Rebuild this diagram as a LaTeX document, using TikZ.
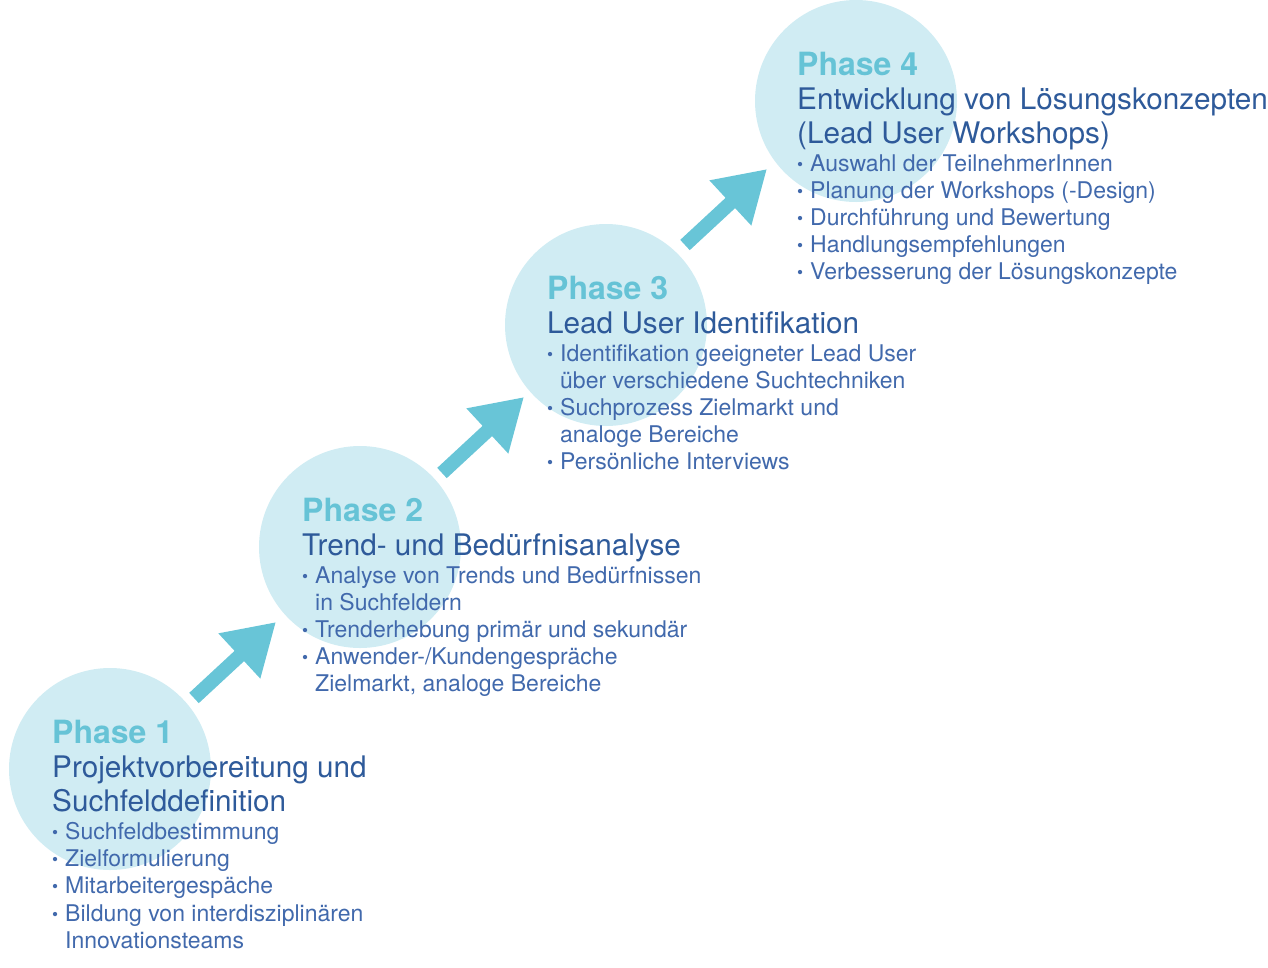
\documentclass[tikz,border=0pt]{standalone}
\usepackage{fontspec}
\setmainfont{TeX Gyre Heros}
\usetikzlibrary{arrows.meta}
\definecolor{circfill}{HTML}{D0ECF3}
\definecolor{arrowcol}{HTML}{68C5D7}
\definecolor{phasecol}{HTML}{66C3D6}
\definecolor{titlecol}{HTML}{2E5A9A}
\definecolor{itemcol}{HTML}{4169AC}
\newcommand{\bul}{\makebox[13pt][l]{\raisebox{0.5pt}{\scalebox{0.75}{•}}}}
\tikzset{
  phasecircle/.style={circle, fill=circfill, minimum size=202pt, inner sep=0pt},
  phaselabel/.style={anchor=base west, inner sep=0pt, text=phasecol, font=\fontsize{32}{32}\selectfont\bfseries},
  titleline/.style={anchor=base west, inner sep=0pt, text=titlecol, font=\fontsize{29.7}{29.7}\selectfont},
  itemline/.style={anchor=base west, inner sep=0pt, text=itemcol, font=\fontsize{23}{23}\selectfont},
  contline/.style={anchor=base west, inner sep=0pt, text=itemcol, font=\fontsize{23}{23}\selectfont, xshift=13pt},
  steparrow/.style={draw=arrowcol, line width=14pt, line cap=butt, -{Triangle[width=58pt,length=50pt,fill=arrowcol]}}
}
\begin{document}
\begin{tikzpicture}[x=1pt,y=-1pt]
\useasboundingbox (0,0) rectangle (1268,967);
% circles
\node[phasecircle] (c1) at (110,769) {};
\node[phasecircle] (c2) at (360,547) {};
\node[phasecircle] (c3) at (606,325) {};
\node[phasecircle] (c4) at (856,101) {};
% arrows
\coordinate (a1s) at (194,698); \coordinate (a1e) at (276,622);
\coordinate (a2s) at (442,473); \coordinate (a2e) at (524,397);
\coordinate (a3s) at (685,245); \coordinate (a3e) at (767,169);
\draw[steparrow] (a1s) -- (a1e);
\draw[steparrow] (a2s) -- (a2e);
\draw[steparrow] (a3s) -- (a3e);
% Phase 1
\node[phaselabel] (p1) at (52,743) {Phase 1};
\node[titleline] (p1t1) at (52,777) {Projektvorbereitung und};
\node[titleline] (p1t2) at (52,811) {Suchfelddefinition};
\node[itemline] (p1i1) at (52,839) {\bul Suchfeldbestimmung};
\node[itemline] (p1i2) at (52,866) {\bul Zielformulierung};
\node[itemline] (p1i3) at (52,893) {\bul Mitarbeitergespäche};
\node[itemline] (p1i4) at (52,921) {\bul Bildung von interdisziplinären};
\node[contline] (p1i5) at (52,948) {Innovationsteams};
% Phase 2
\node[phaselabel] (p2) at (302,521) {Phase 2};
\node[titleline] (p2t1) at (302,555) {Trend- und Bedürfnisanalyse};
\node[itemline] (p2i1) at (302,583) {\bul Analyse von Trends und Bedürfnissen};
\node[contline] (p2i2) at (302,610) {in Suchfeldern};
\node[itemline] (p2i3) at (302,637) {\bul Trenderhebung primär und sekundär};
\node[itemline] (p2i4) at (302,664) {\bul Anwender-/Kundengespräche};
\node[contline] (p2i5) at (302,691) {Zielmarkt, analoge Bereiche};
% Phase 3
\node[phaselabel] (p3) at (547,299) {Phase 3};
\node[titleline] (p3t1) at (547,333) {Lead User Identifikation};
\node[itemline] (p3i1) at (547,361) {\bul Identifikation geeigneter Lead User};
\node[contline] (p3i2) at (547,388) {über verschiedene Suchtechniken};
\node[itemline] (p3i3) at (547,415) {\bul Suchprozess Zielmarkt und};
\node[contline] (p3i4) at (547,442) {analoge Bereiche};
\node[itemline] (p3i5) at (547,469) {\bul Persönliche Interviews};
% Phase 4
\node[phaselabel] (p4) at (797,75) {Phase 4};
\node[titleline] (p4t1) at (797,109) {Entwicklung von Lösungskonzepten};
\node[titleline] (p4t2) at (797,143) {(Lead User Workshops)};
\node[itemline] (p4i1) at (797,171) {\bul Auswahl der TeilnehmerInnen};
\node[itemline] (p4i2) at (797,198) {\bul Planung der Workshops (-Design)};
\node[itemline] (p4i3) at (797,225) {\bul Durchführung und Bewertung};
\node[itemline] (p4i4) at (797,252) {\bul Handlungsempfehlungen};
\node[itemline] (p4i5) at (797,279) {\bul Verbesserung der Lösungskonzepte};
\end{tikzpicture}
\end{document}
